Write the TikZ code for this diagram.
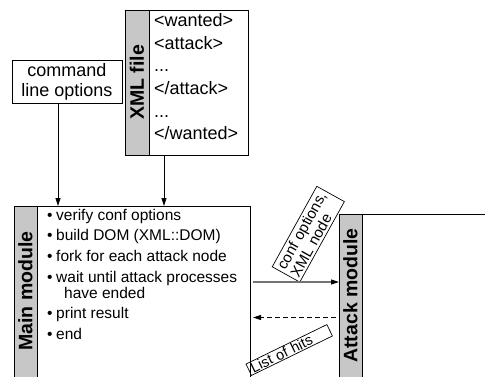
\documentclass[tikz,border=0pt]{standalone}
\usepackage{fontspec}
\setmainfont{Liberation Sans}
\usetikzlibrary{arrows.meta}

\tikzset{
  box/.style={draw, line width=0.8pt, inner sep=0pt, outer sep=0pt},
  stripe/.style={box, fill=black!22},
  stripelabel/.style={rotate=90, inner sep=0pt, font=\fontsize{19.5}{20}\selectfont\bfseries},
  tag/.style={draw, line width=0.7pt, align=left, font=\fontsize{15}{15.5}\selectfont},
  arr/.style={-{Triangle[length=8pt,width=5pt,color=black]}, line width=0.8pt},
}

\begin{document}
\begin{tikzpicture}[x=1pt, y=-1pt]
    \useasboundingbox (0,0) rectangle (485,376);

    % command line options
    \node[box, minimum width=110pt, minimum height=43pt, align=center,
          font=\fontsize{18}{20}\selectfont] (cmdopts) at (67,81.5) {command\\line options};

    % XML file
    \node[stripe, minimum width=24pt, minimum height=145pt] (xmlstripe) at (137,82.5) {};
    \node[stripelabel] (xmllabel) at (xmlstripe.center) {XML file};
    \node[box, minimum width=99pt, minimum height=145pt, anchor=north west] (xmlfile) at (xmlstripe.north east) {};
    \node[anchor=north west, align=left, inner sep=0pt,
          font=\fontsize{18}{22.6}\selectfont] (xmltext) at (154,13.5)
          {<wanted>\\<attack>\\...\\</attack>\\...\\</wanted>};

    % main module
    \node[stripe, minimum width=23pt, minimum height=190pt, anchor=north west] (mainstripe) at (14,206) {};
    \node[box, minimum width=213pt, minimum height=190pt, anchor=north west] (mainbox) at (mainstripe.north east) {};
    \node[stripelabel] (mainlabel) at (25.5,291) {Main module};
    \node[anchor=north west, inner sep=0pt, font=\fontsize{15.5}{16}\selectfont] (mainsteps) at (47,208.8)
    {\begin{tabular}{@{}l@{\hspace{3.6pt}}l@{}}
        \textbullet & verify conf options\\[4.6pt]
        \textbullet & build DOM (XML::DOM)\\[4.6pt]
        \textbullet & fork for each attack node\\[4.6pt]
        \textbullet & wait until attack processes\\
                    & \hspace{8pt}have ended\\[4.6pt]
        \textbullet & print result\\[4.6pt]
        \textbullet & end
    \end{tabular}};

    % attack module
    \node[stripe, minimum width=23pt, minimum height=180pt, anchor=north west] (attackstripe) at (339,214) {};
    \node[box, minimum width=140pt, minimum height=180pt, anchor=north west] (attackbox) at (attackstripe.north east) {};
    \node[stripelabel] (attacklabel) at (350.5,295.5) {Attack module};

    % message tags
    \node[tag, rotate=61, text width=86pt, inner xsep=3pt, inner ysep=2.5pt] (sendtag) at (308.3,234.2)
          {conf options,\\XML node};
    \node[tag, rotate=26, text width=84pt, inner xsep=3pt, inner ysep=1pt,
          font=\fontsize{14.5}{14.5}\selectfont] (backtag) at (289.2,350) {List of hits};

    % connectors
    \coordinate (cmdout) at ([xshift=-9pt]cmdopts.south);
    \coordinate (xmlout) at ([xshift=15pt]xmlfile.south west);
    \coordinate (sendy) at (0,282);
    \coordinate (backy) at (0,317.5);
    \draw[arr] (cmdout) -- (cmdout |- mainbox.north);
    \draw[arr] (xmlout) -- (xmlout |- mainbox.north);
    \draw[arr, draw=black!55, line width=1.1pt] ([xshift=3pt]mainbox.east |- sendy) -- (attackstripe.west |- sendy);
    \draw[arr, dash pattern=on 5pt off 3pt] ([xshift=-3pt]attackstripe.west |- backy) -- ([xshift=3pt]mainbox.east |- backy);
\end{tikzpicture}
\end{document}
